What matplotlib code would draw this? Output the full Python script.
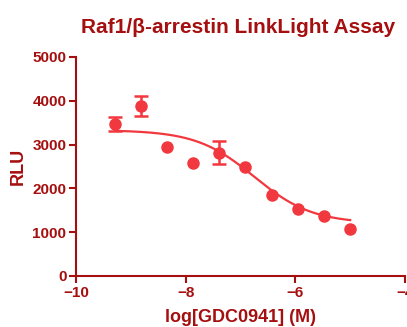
import numpy as np
import matplotlib.pyplot as plt

plt.rcParams['font.family'] = ['Liberation Sans', 'DejaVu Sans']

log_conc = [-9.29, -8.82, -8.34, -7.86, -7.39, -6.91, -6.43, -5.95, -5.48, -5.0]
rlu = [3470, 3880, 2950, 2580, 2810, 2490, 1850, 1530, 1370, 1070]
rlu_err = [150, 220, 0, 0, 260, 0, 0, 0, 0, 0]

# 4PL fit params
top, bottom, log_ic50, hill = 3330, 1200, -6.75, 0.82

dark = '#A50F0F'
red = '#F2383F'

fig = plt.figure(figsize=(4.07, 3.27), dpi=100)
ax = fig.add_axes([0.187, 0.156, 0.808, 0.67])

xs = np.linspace(log_conc[0], log_conc[-1], 200)
fit = bottom + (top - bottom) / (1 + 10 ** ((xs - log_ic50) * hill))
ax.plot(xs, fit, color=red, lw=1.6)

# only draw bars where there is an error
ex = [x for x, e in zip(log_conc, rlu_err) if e > 0]
ey = [y for y, e in zip(rlu, rlu_err) if e > 0]
ee = [e for e in rlu_err if e > 0]
ax.errorbar(ex, ey, yerr=ee, fmt='none', ecolor=red, elinewidth=1.8,
            capsize=5, capthick=1.8)
ax.plot(log_conc, rlu, 'o', color=red, ms=8)

ax.set_xlim(-10, -4)
ax.set_ylim(0, 5000)
ax.set_xticks([-10, -8, -6, -4])
ax.set_yticks([0, 1000, 2000, 3000, 4000, 5000])
for s in ['top', 'right']:
    ax.spines[s].set_visible(False)
for s in ['left', 'bottom']:
    ax.spines[s].set_color(dark)
    ax.spines[s].set_linewidth(1.5)
ax.tick_params(colors=dark, width=1.5, length=5, labelsize=11, pad=2)
for lab in ax.get_xticklabels() + ax.get_yticklabels():
    lab.set_fontweight('bold')
ax.set_xlabel('log[GDC0941] (M)', color=dark, fontsize=13, fontweight='bold', labelpad=7)
ax.set_ylabel('RLU', color=dark, fontsize=13, fontweight='bold', labelpad=4)
fig.text(0.585, 0.9, 'Raf1/β-arrestin LinkLight Assay', color=dark, fontsize=15,
         fontweight='bold', ha='center')

fig.savefig('out.png', dpi=100)
